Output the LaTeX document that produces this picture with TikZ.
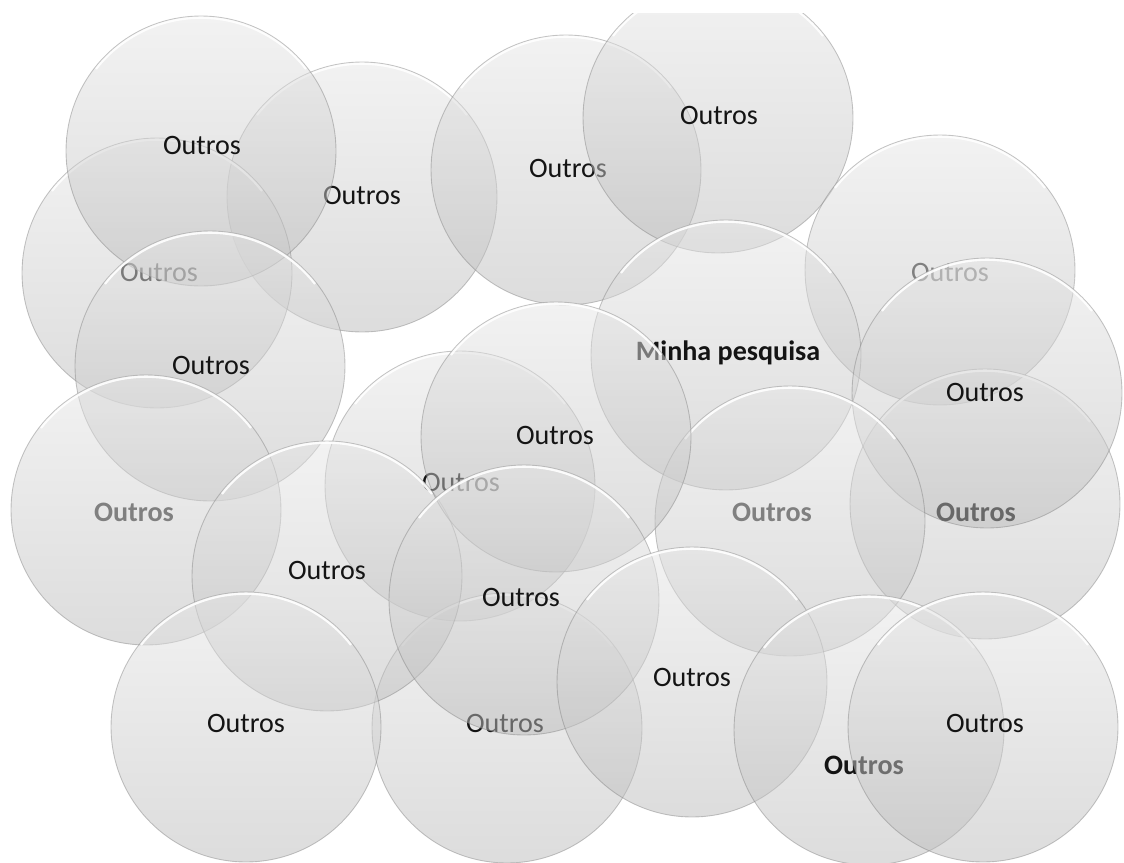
\documentclass[tikz,border=0pt]{standalone}
\usepackage{fontspec}
\setmainfont{Carlito}

\begin{document}
\begin{tikzpicture}[
  x=0.02cm,y=-0.02cm,
  every node/.style={font=\fontsize{16}{19}\selectfont},
  ball/.style={circle,minimum size=5.4cm,inner sep=0pt,outer sep=0pt,
               top color=black!10,bottom color=black!27,fill opacity=0.5,
               draw=black!50,draw opacity=0.45,line width=0.5pt,
               path picture={\draw[white,line width=3.2pt,opacity=0.9]
                 (path picture bounding box.center) ++(38:2.7cm)
                 arc[start angle=38,end angle=142,radius=2.7cm];}},
  txt/.style={text=black!92,inner sep=0pt},
  dim/.style={txt,text=black!50},
  heavy/.style={font=\fontsize{16}{19}\selectfont\bfseries}
]
\useasboundingbox (0,0) rectangle (1124,862);
\clip (0,13) rectangle (1124,862);

\node[ball] (c3)  at (362,197) {};
\node[txt]  (t3)  at (362,195) {Outros};
\node[ball] (c1)  at (157,273) {};
\node[txt]  (t1)  at (159,272) {Outros};
\node[ball] (c2)  at (201,151) {};
\node[txt]  (t2)  at (202,145) {Outros};
\node[ball] (c4)  at (210,366) {};
\node[txt]  (t4)  at (211,365) {Outros};
\node[ball] (c5)  at (566,170) {};
\node[txt]  (t5)  at (568,168) {Outros};
\node[ball] (c6)  at (718,118) {};
\node[txt]  (t6)  at (719,115) {Outros};
\node[ball] (c7)  at (940,270) {};
\node[dim]  (t7)  at (950,272) {Outros};
\node[ball] (c8)  at (726,355) {};
\node[txt,heavy] (t8) at (728,353) {Minha pesquisa};
\node[ball] (c9)  at (985,504) {};
\node[txt,heavy] (t9) at (976,512) {Outros};
\node[ball] (c10) at (987,393) {};
\node[txt]  (t10) at (985,392) {Outros};
\node[ball] (c11) at (790,521) {};
\node[dim,heavy] (t11) at (772,512) {Outros};
\node[ball] (c12) at (146,510) {};
\node[dim,heavy] (t12) at (134,512) {Outros};
\node[ball] (c13) at (460,486) {};
\node[txt]  (t13) at (461,482) {Outros};
\node[ball] (c14) at (507,728) {};
\node[txt]  (t14) at (505,723) {Outros};
\node[ball] (c15) at (327,576) {};
\node[txt]  (t15) at (327,570) {Outros};
\node[ball] (c16) at (556,437) {};
\node[txt]  (t16) at (555,435) {Outros};
\node[ball] (c17) at (524,600) {};
\node[txt]  (t17) at (521,597) {Outros};
\node[ball] (c18) at (246,727) {};
\node[txt]  (t18) at (246,723) {Outros};
\node[ball] (c19) at (692,682) {};
\node[txt]  (t19) at (692,677) {Outros};
\node[ball] (c20) at (869,730) {};
\node[txt,heavy] (t20) at (864,765) {Outros};
\node[ball] (c21) at (983,727) {};
\node[txt]  (t21) at (985,723) {Outros};
\end{tikzpicture}
\end{document}
